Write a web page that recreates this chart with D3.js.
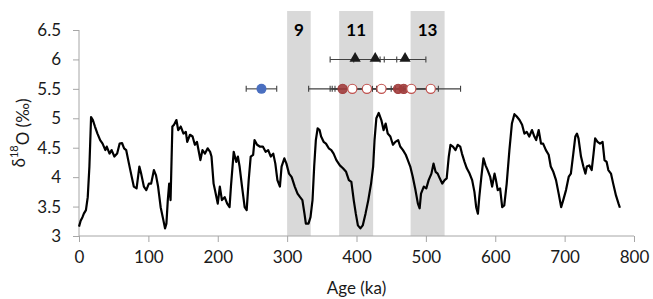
<!DOCTYPE html>
<html>
<head>
<meta charset="utf-8">
<script src="https://cdn.jsdelivr.net/npm/d3@7"></script>
<style>
  body { margin: 0; background: #fff; }
  text { font-family: Lato, "Open Sans", sans-serif; }
</style>
</head>
<body>
<div id="chart"></div>
<script>
// benthic stack (age in ka, d18O in per mil)
const ageKa = [0,2.4,5,7,10,12.6,15,17.4,20,23,26.6,30.5,34,38,40,44,47,51,55,58.6,62,65,68,72,75,79,83,87,89.6,93.5,97,100.7,104,108,111,114,117.7,121.6,124,126,128,130,132,134.6,137,140.4,143,146.7,150.6,154,156,160,163.7,167,170,175,178,181.6,185.5,189,191,194,196,200,203,206,210,213.6,217,219,223,226.6,229,231.5,235,238.8,241.7,244.6,247.5,251,253,256.7,260.5,265,269,272.7,276.5,280,283,286,289.6,292,296,299,302.7,306.6,311,315,318.7,322,325,327,330.8,333.7,336.6,339,341.4,344,346.8,349,352.6,356,360,363.7,367,371,376,380.5,385,389,392.6,396,399,402,405.6,409,413,417,421,424,426,428.6,432,435.8,439,442,445,448.8,452.5,456,460,463,467,471,474,477.5,481,485,488.5,491,493,497,500.6,504,508,511,514,517,520,523.6,527,530,533,535.5,539,542.7,546,549.5,552,555.7,559,563,566.7,570,572.5,575,577,580,583,586,589,592.6,595.5,599,601,603.6,607,610,613,616.5,620.4,624,627.6,631,635,638.7,642,645.3,649,653,656.4,659,662.6,666,669,673,677,680,683.7,687.6,691.4,695,698,702,706,709,712.5,715.4,717.8,720,723.6,727,730,732,735.5,739,741.7,744,747.5,751,754.7,757.5,760.5,763,766.8,770,774,777.7,779.7];
const d18O = [3.16,3.26,3.32,3.38,3.44,3.66,4.18,5.02,4.97,4.86,4.74,4.63,4.57,4.46,4.52,4.40,4.46,4.35,4.40,4.57,4.58,4.49,4.46,4.23,4.06,3.84,3.81,4.18,4.06,3.84,3.78,3.89,3.89,4.12,4.03,3.84,3.49,3.27,3.13,3.21,3.61,3.89,3.61,4.86,4.89,4.97,4.80,4.86,4.74,4.77,4.60,4.72,4.69,4.55,4.60,4.29,4.46,4.40,4.49,4.43,4.35,3.89,3.78,3.55,3.84,3.61,3.66,3.55,3.49,3.84,4.43,4.26,4.35,4.18,3.84,3.49,3.44,3.95,4.35,4.38,4.63,4.55,4.52,4.52,4.43,4.46,4.35,4.40,4.23,3.95,3.84,4.18,4.32,4.23,4.06,4.00,3.84,3.72,3.66,3.61,3.38,3.21,3.21,3.32,3.61,4.18,4.63,4.83,4.80,4.69,4.60,4.57,4.49,4.46,4.40,4.29,4.20,4.15,4.09,3.95,3.92,3.61,3.38,3.18,3.13,3.18,3.38,3.61,3.89,4.18,4.63,5.00,5.09,4.97,4.80,4.91,4.74,4.69,4.55,4.60,4.63,4.52,4.46,4.38,4.29,4.18,4.01,3.78,3.55,3.47,3.72,3.84,3.81,3.95,4.06,4.23,4.09,4.06,3.98,3.89,3.95,3.98,4.35,4.55,4.52,4.46,4.55,4.52,4.40,4.26,4.15,4.06,3.95,3.75,3.49,3.38,3.66,4.01,4.32,4.20,4.12,4.01,3.84,4.06,3.95,3.78,3.81,3.49,3.52,3.89,4.46,4.91,5.07,5.03,4.97,4.89,4.74,4.77,4.69,4.80,4.69,4.63,4.80,4.57,4.57,4.46,4.38,4.18,4.09,3.95,3.72,3.49,3.61,3.78,4.01,4.06,4.40,4.69,4.74,4.66,4.35,4.18,4.06,4.18,4.20,4.12,4.40,4.66,4.60,4.57,4.60,4.29,4.26,4.12,4.06,3.89,3.69,3.55,3.48];

// marine isotope stage bands
const bandLabels = ["9", "11", "13"];
const bandStart = [300, 375, 478];
const bandEnd = [334, 424, 527];

// triangles at 6 per mil, with age errors
const triAge = [398, 427, 470];
const triErr = [36, 31, 30];
const triLevel = 6;

// blue circle
const blueAge = [263];
const blueErr = [22];

// red circles at 5.5 per mil
const redAge = [380, 394, 415, 436, 460, 468, 479, 507];
const redErr = [49, 29, 53, 67, 10, 12, 39, 43];
const redFilled = [true, false, false, false, true, true, false, false];
const circleLevel = 5.5;

const xTicks = [0, 100, 200, 300, 400, 500, 600, 700, 800];
const yTicks = [3, 3.5, 4, 4.5, 5, 5.5, 6, 6.5];

const margin = { top: 30, right: 19, bottom: 63, left: 79 };
const width = 653 - margin.left - margin.right;
const height = 299 - margin.top - margin.bottom;

const svg = d3.select("#chart").append("svg")
  .attr("width", 653)
  .attr("height", 299);

const g = svg.append("g")
  .attr("transform", `translate(${margin.left},${margin.top})`);

const x = d3.scaleLinear().domain([0, 800]).range([0, width]);
const y = d3.scaleLinear().domain([3, 6.5]).range([height, 0]);

// grey bands, they reach a bit above the plot top
const bandTop = y(6.5) - 19;
g.selectAll(".band")
  .data(bandLabels)
  .enter().append("rect")
  .attr("x", (d, i) => x(bandStart[i]))
  .attr("width", (d, i) => x(bandEnd[i]) - x(bandStart[i]))
  .attr("y", bandTop)
  .attr("height", y(3) - bandTop)
  .attr("fill", "#d9d9d9");

g.selectAll(".bandlabel")
  .data(bandLabels)
  .enter().append("text")
  .attr("x", (d, i) => x((bandStart[i] + bandEnd[i]) / 2))
  .attr("y", bandTop + 25)
  .attr("text-anchor", "middle")
  .attr("font-size", 17)
  .attr("font-weight", "bold")
  .attr("fill", "#000")
  .text(d => d);

// axes
const xAxis = g.append("g")
  .attr("transform", `translate(0,${height})`)
  .call(d3.axisBottom(x).tickValues(xTicks).tickSize(6).tickFormat(d => d));
const yAxis = g.append("g")
  .call(d3.axisLeft(y).tickValues(yTicks).tickSize(6).tickPadding(12).tickFormat(d => String(d)));

[xAxis, yAxis].forEach(a => {
  a.select(".domain").attr("stroke", "#a6a6a6").attr("stroke-width", 1);
  a.selectAll(".tick line").attr("stroke", "#a6a6a6");
  a.selectAll(".tick text").attr("font-size", 17).attr("fill", "#1a1a1a");
});
xAxis.selectAll(".tick text").attr("dy", "1.05em");
yAxis.select(".domain").attr("d", `M0,${height}V0`);
xAxis.select(".domain").attr("d", `M0,0H${width}`);

// curve
const line = d3.line()
  .x((d, i) => x(ageKa[i]))
  .y(d => y(d));
g.append("path")
  .datum(d18O)
  .attr("d", line)
  .attr("fill", "none")
  .attr("stroke", "#000")
  .attr("stroke-width", 2.2)
  .attr("stroke-linejoin", "round");

// error bars helper
function errorBars(ages, errs, level) {
  const eb = g.append("g").attr("stroke", "#404040").attr("stroke-width", 1.1);
  ages.forEach((a, i) => {
    const x0 = x(a - errs[i]), x1 = x(a + errs[i]), yy = y(level);
    eb.append("line").attr("x1", x0).attr("x2", x1).attr("y1", yy).attr("y2", yy);
    eb.append("line").attr("x1", x0).attr("x2", x0).attr("y1", yy - 3).attr("y2", yy + 3);
    eb.append("line").attr("x1", x1).attr("x2", x1).attr("y1", yy - 3).attr("y2", yy + 3);
  });
}

errorBars(triAge, triErr, triLevel);
errorBars(blueAge, blueErr, circleLevel);
errorBars(redAge, redErr, circleLevel);

g.selectAll(".tri")
  .data(triAge)
  .enter().append("path")
  .attr("d", d3.symbol().type(d3.symbolTriangle).size(55))
  .attr("transform", d => `translate(${x(d)},${y(triLevel) - 1})`)
  .attr("fill", "#1a1a1a");

g.selectAll(".blue")
  .data(blueAge)
  .enter().append("circle")
  .attr("cx", d => x(d))
  .attr("cy", y(circleLevel))
  .attr("r", 5)
  .attr("fill", "#4a6fc0");

g.selectAll(".red")
  .data(redAge)
  .enter().append("circle")
  .attr("cx", d => x(d))
  .attr("cy", y(circleLevel))
  .attr("r", 4.6)
  .attr("fill", (d, i) => redFilled[i] ? "#a13d3d" : "#fff")
  .attr("fill-opacity", (d, i) => redFilled[i] ? 0.9 : 1)
  .attr("stroke", (d, i) => redFilled[i] ? "#a13d3d" : "#c0504d")
  .attr("stroke-width", 1.2);

// axis titles
svg.append("text")
  .attr("x", margin.left + width / 2)
  .attr("y", 294)
  .attr("text-anchor", "middle")
  .attr("font-size", 17)
  .attr("fill", "#1a1a1a")
  .text("Age (ka)");

const yt = svg.append("text")
  .attr("transform", `translate(25,${margin.top + height / 2}) rotate(-90)`)
  .attr("text-anchor", "middle")
  .attr("font-size", 17)
  .attr("fill", "#1a1a1a");
yt.append("tspan").text("δ");
yt.append("tspan").attr("font-size", 11).attr("dy", "-0.6em").text("18");
yt.append("tspan").attr("dy", "0.6em").text("O (‰)");
</script>
</body>
</html>
